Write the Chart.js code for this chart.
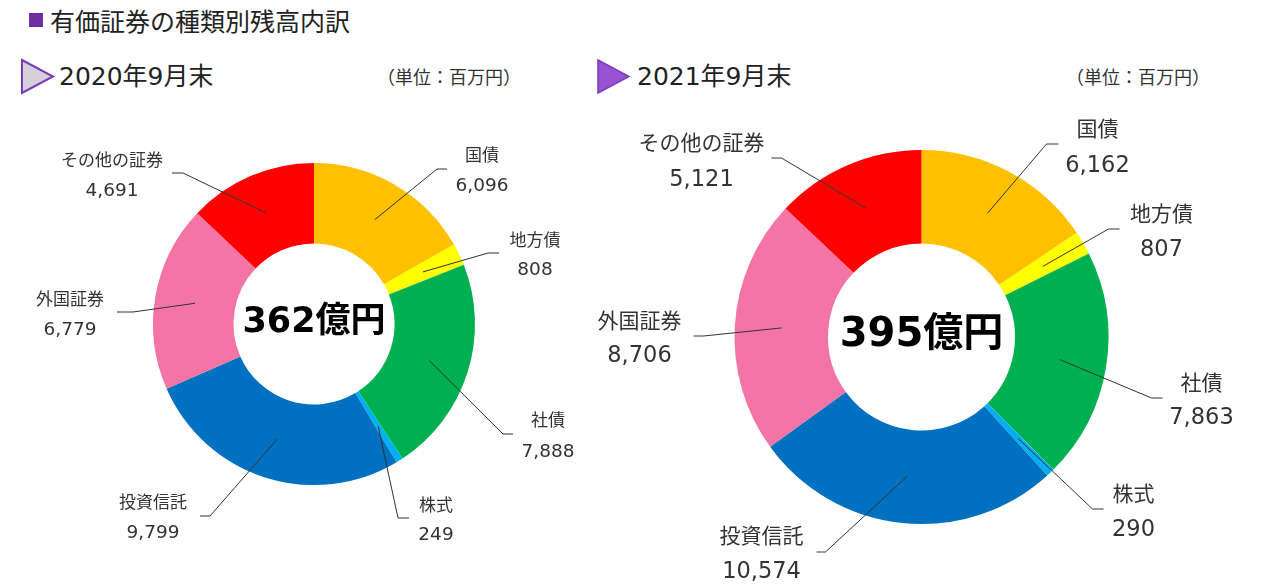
<!DOCTYPE html>
<html lang="ja">
<head>
<meta charset="utf-8">
<script src="https://cdn.jsdelivr.net/npm/chart.js@4.4.1/dist/chart.umd.min.js"></script>
<style>
  body { margin: 0; width: 1265px; height: 587px; position: relative; overflow: hidden; background: #fff;
         font-family: "DejaVu Sans", "Noto Sans CJK JP", sans-serif; color: #222; }
  .abs { position: absolute; white-space: nowrap; }
  #title { left: 50px; top: 4px; font-size: 25px; line-height: 32px; font-family: "Noto Sans CJK JP", sans-serif; }
  #sq { left: 29px; top: 13px; width: 14px; height: 14px; background: #7030A0; }
  .sub { top: 61px; font-size: 25px; line-height: 32px; }
  .unit { top: 62px; font-size: 18px; line-height: 28px; font-family: "Noto Sans CJK JP", sans-serif; color: #333; }
  canvas { position: absolute; }
</style>
</head>
<body>
<div id="sq" class="abs"></div>
<div id="title" class="abs">有価証券の種類別残高内訳</div>

<svg class="abs" style="left:0;top:0" width="1265" height="100">
  <polygon points="22,60 53,76.5 22,93" fill="#D4D1D8" stroke="#7A3DB8" stroke-width="2"/>
  <polygon points="598,60 629,76.5 598,93" fill="#9A52D4" stroke="#7A3DB8" stroke-width="1.5"/>
</svg>
<div class="abs sub" style="left:59px">2020年9月末</div>
<div class="abs sub" style="left:637px">2021年9月末</div>
<div class="abs unit" style="left:377px">（単位：百万円）</div>
<div class="abs unit" style="left:1066px">（単位：百万円）</div>

<canvas id="c2020" width="628" height="526" style="left:0;top:61px;width:628px;height:526px"></canvas>
<canvas id="c2021" width="687" height="500" style="left:578px;top:87px;width:687px;height:500px"></canvas>

<script>
// data
const CATEGORIES = ["国債", "地方債", "社債", "株式", "投資信託", "外国証券", "その他の証券"];
const VALUES_2020 = [6096, 808, 7888, 249, 9799, 6779, 4691];
const VALUES_2021 = [6162, 807, 7863, 290, 10574, 8706, 5121];
const TOTAL_2020 = "362億円";
const TOTAL_2021 = "395億円";

const COLORS = ["#FFC000", "#FFFF00", "#00B050", "#00B0F0", "#0070C0", "#F374A5", "#FF0000"];

// label layout, offsets from the donut centre:
// [elbowX, elbowY, lineEndX, textX, labelY, valueY]
const LAYOUT_2020 = [
  [123, -155, 133, 168, -169, -138],
  [174, -71, 185, 221, -84, -54],
  [189, 110, 199, 234, 96, 128],
  [84, 194, 95, 122, 181, 211],
  [-104, 192, -114, -161, 178, 209],
  [-181, -12, -197, -244, -25, 6],
  [-131, -151, -142, -202, -164, -133],
];
const LAYOUT_2021 = [
  [125, -193, 137, 176, -209, -171],
  [187, -108, 198, 240, -124, -87],
  [230, 61, 241, 280, 45, 81],
  [171, 172, 182, 212, 156, 193],
  [-96, 215, -105, -160, 198, 235],
  [-218, -1, -228, -282, -17, 19],
  [-140, -179, -150, -220, -195, -157],
];

const fmt = (v) => v.toLocaleString("en-US");

const leaderLabels = {
  id: "leaderLabels",
  afterDatasetsDraw(chart, args, opts) {
    const ctx = chart.ctx;
    const meta = chart.getDatasetMeta(0);
    const vals = chart.data.datasets[0].data;
    ctx.save();
    meta.data.forEach((arc, i) => {
      const L = opts.layout[i];
      const cx = arc.x, cy = arc.y;
      const p = arc.tooltipPosition();
      ctx.strokeStyle = "#333";
      ctx.lineWidth = 1;
      ctx.beginPath();
      ctx.moveTo(p.x, p.y);
      ctx.lineTo(cx + L[0], cy + L[1]);
      ctx.lineTo(cx + L[2], cy + L[1]);
      ctx.stroke();
      ctx.fillStyle = "#333";
      ctx.textAlign = "center";
      ctx.textBaseline = "middle";
      ctx.font = `${opts.size}px "Noto Sans CJK JP", sans-serif`;
      ctx.fillText(chart.data.labels[i], cx + L[3], cy + L[4]);
      ctx.font = `${opts.size + 1.5}px "DejaVu Sans", "Noto Sans CJK JP", sans-serif`;
      ctx.fillText(fmt(vals[i]), cx + L[3], cy + L[5]);
    });
    // centre total
    const a = meta.data[0];
    ctx.fillStyle = "#000";
    ctx.font = `bold ${opts.centerSize}px "DejaVu Sans", "Noto Sans CJK JP", sans-serif`;
    ctx.fillText(opts.total, a.x, a.y - 1);
    ctx.restore();
  },
};

function donut(id, values, layout, total, radius, size, centerSize) {
  return new Chart(document.getElementById(id), {
    type: "doughnut",
    data: {
      labels: CATEGORIES,
      datasets: [{ data: values, backgroundColor: COLORS, borderWidth: 0 }],
    },
    options: {
      responsive: false,
      animation: false,
      events: [],
      radius: radius,
      cutout: "50%",
      layout: { padding: 0 },
      plugins: {
        legend: { display: false },
        tooltip: { enabled: false },
        leaderLabels: { layout, total, size, centerSize },
      },
    },
    plugins: [leaderLabels],
  });
}

donut("c2020", VALUES_2020, LAYOUT_2020, TOTAL_2020, 161, 17, 35);
donut("c2021", VALUES_2021, LAYOUT_2021, TOTAL_2021, 187, 21, 40);
</script>
</body>
</html>
